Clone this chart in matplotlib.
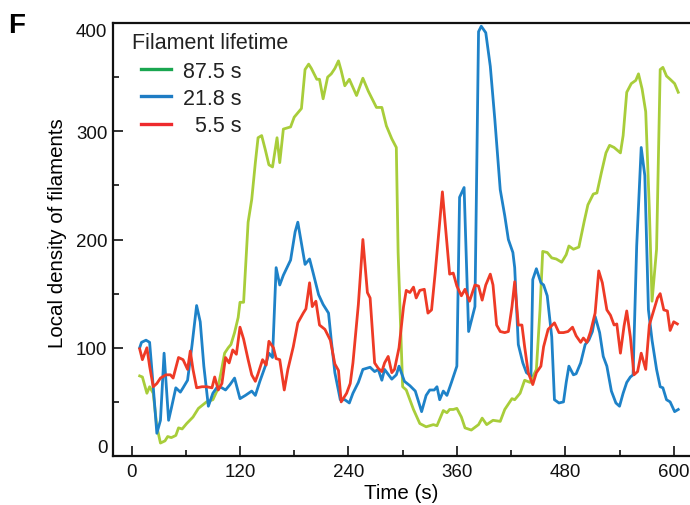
import matplotlib
matplotlib.use('Agg')
from matplotlib import pyplot as plt
from matplotlib.lines import Line2D

plt.rcParams['font.family'] = ['Liberation Sans', 'DejaVu Sans']

# 87.5 s lifetime (green)
t_long = [9, 12, 17, 20, 24, 28, 32, 37, 40, 44, 49, 52, 56, 61, 68, 74, 83, 90, 95, 99,
          103, 107, 110, 114, 118, 120, 124, 129, 133, 137, 140, 144, 148, 152, 156, 161, 164,
          168, 172, 176, 180, 183, 188, 192, 196, 199, 205, 208, 212, 217, 221, 225, 229, 232,
          236, 241, 249, 256, 262, 271, 277, 282, 288, 293, 295, 300, 304, 312, 319, 326, 334,
          338, 345, 349, 352, 356, 360, 365, 369, 376, 384, 388, 393, 400, 408, 413, 421, 424,
          430, 435, 441, 448, 452, 455, 460, 465, 470, 476, 481, 484, 489, 495, 501, 505, 511,
          515, 520, 525, 529, 534, 541, 544, 548, 553, 558, 561, 565, 569, 573, 576, 581, 585,
          588, 592, 596, 601, 605]
d_long = [74, 73, 58, 64, 58, 27, 12, 14, 18, 17, 19, 26, 25, 30, 36, 44, 50, 52, 61, 77,
          95, 100, 103, 114, 128, 142, 142, 216, 237, 271, 294, 296, 283, 269, 267, 294, 271,
          302, 303, 304, 313, 316, 321, 357, 362, 358, 348, 348, 330, 350, 353, 358, 365, 356,
          342, 348, 333, 349, 337, 322, 322, 305, 293, 285, 188, 64, 61, 43, 30, 27, 29,
          28, 42, 40, 43, 43, 44, 36, 26, 24, 29, 35, 29, 33, 32, 43, 53, 52,
          58, 70, 68, 80, 135, 189, 188, 183, 182, 179, 186, 194, 191, 193, 217, 232, 242,
          243, 262, 280, 287, 285, 280, 296, 336, 344, 347, 353, 339, 318, 228, 143, 191, 357,
          359, 351, 348, 344, 336]

# 21.8 s lifetime (blue)
t_mid = [9, 11, 16, 20, 24, 28, 32, 36, 41, 44, 49, 54, 57, 62, 67, 72, 76, 80, 85, 90,
         95, 100, 104, 109, 114, 120, 126, 133, 137, 142, 148, 152, 156, 160, 164, 168, 176,
         181, 184, 192, 197, 201, 207, 212, 218, 221, 225, 231, 236, 241, 245, 251, 256, 264,
         269, 273, 277, 280, 288, 293, 296, 302, 308, 314, 321, 326, 330, 335, 338, 341, 345,
         349, 354, 360, 363, 368, 373, 380, 384, 387, 392, 397, 402, 408, 413, 417, 422, 424,
         428, 433, 437, 442, 444, 448, 453, 456, 460, 465, 468, 473, 478, 481, 484, 489, 492,
         497, 502, 506, 510, 513, 518, 522, 526, 531, 536, 540, 544, 548, 552, 555, 559, 564,
         568, 572, 576, 581, 585, 588, 592, 596, 601, 605]
d_mid = [100, 105, 107, 105, 64, 21, 33, 95, 33, 44, 63, 59, 63, 70, 103, 139, 124, 83, 46, 58,
         64, 63, 61, 66, 72, 53, 56, 60, 56, 69, 83, 95, 91, 174, 158, 167, 181,
         207, 216, 177, 182, 169, 149, 140, 132, 107, 77, 52, 52, 49, 58, 68, 80, 82,
         78, 80, 70, 80, 71, 75, 83, 69, 65, 60, 41, 56, 61, 61, 64, 52, 60,
         56, 68, 83, 239, 248, 115, 138, 392, 397, 391, 360, 311, 246, 222, 200, 188, 174,
         103, 86, 77, 74, 163, 173, 160, 158, 148, 110, 52, 49, 50, 68, 83, 75, 76,
         86, 103, 107, 115, 129, 114, 92, 83, 60, 49, 46, 58, 68, 73, 75, 194, 285,
         259, 135, 107, 80, 64, 63, 52, 50, 41, 43]

# 5.5 s lifetime (red)
t_short = [9, 12, 17, 20, 24, 28, 32, 38, 43, 46, 52, 57, 62, 65, 68, 72, 78, 83, 89, 92,
           96, 100, 104, 108, 112, 116, 120, 124, 129, 133, 137, 140, 145, 149, 152, 157, 160,
           164, 169, 173, 179, 184, 190, 193, 197, 200, 204, 208, 214, 220, 225, 229, 232, 238,
           242, 245, 251, 256, 261, 264, 269, 273, 277, 280, 284, 288, 291, 296, 301, 304, 308,
           312, 315, 319, 324, 328, 332, 336, 339, 344, 348, 352, 356, 360, 365, 369, 374, 380,
           384, 388, 392, 397, 400, 404, 408, 413, 417, 421, 424, 428, 432, 435, 439, 444, 448,
           453, 456, 461, 468, 473, 478, 483, 488, 492, 497, 500, 504, 508, 513, 517, 521, 526,
           530, 534, 537, 541, 545, 548, 552, 556, 560, 564, 569, 573, 577, 582, 585, 589, 593,
           596, 600, 604]
d_short = [99, 89, 100, 83, 64, 67, 72, 75, 75, 72, 91, 89, 80, 97, 80, 63, 64, 64, 63, 73,
           61, 67, 91, 86, 98, 94, 119, 108, 89, 75, 69, 76, 89, 84, 106, 100, 90,
           89, 61, 80, 101, 123, 132, 136, 160, 138, 143, 121, 117, 107, 85, 79, 50, 58,
           67, 86, 140, 200, 151, 146, 86, 81, 78, 86, 92, 77, 80, 100, 138, 153, 151,
           156, 146, 153, 154, 132, 135, 169, 197, 244, 206, 168, 169, 157, 148, 154, 143, 158,
           157, 144, 158, 168, 158, 121, 115, 114, 115, 138, 161, 121, 121, 101, 77, 66, 77,
           83, 101, 117, 123, 114, 114, 115, 119, 111, 105, 109, 105, 115, 132, 171, 160, 135,
           130, 121, 122, 95, 120, 134, 110, 75, 78, 95, 80, 121, 132, 146, 150, 135, 134,
           116, 124, 122]

legend_title = 'Filament lifetime'
legend_labels = ['87.5 s', '21.8 s', '  5.5 s']
line_colors = ['#a8cd3a', '#1e82c8', '#ee3a26']
legend_colors = ['#1aa650', '#1e7cc4', '#ee2a2e']

fig = plt.figure(figsize=(6.9, 5.06), dpi=100)
ax = fig.add_axes([0.1638, 0.0968, 0.8362, 0.8558])

ax.plot(t_long, d_long, color=line_colors[0], lw=2.0)
ax.plot(t_mid, d_mid, color=line_colors[1], lw=2.0)
ax.plot(t_short, d_short, color=line_colors[2], lw=2.0)

ax.set_xlim(-20.5, 618)
ax.set_ylim(0, 400)
ax.set_xticks([0, 120, 240, 360, 480, 600])
ax.set_xticks([60, 180, 300, 420, 540], minor=True)
ax.set_yticks([0, 100, 200, 300, 400])
ax.set_yticks([50, 150, 250, 350], minor=True)
ax.tick_params(which='both', direction='in', width=1.2, labelsize=13.5, colors='#111111')
ax.tick_params(which='major', length=7.5)
ax.tick_params(which='minor', length=4.5)
ax.tick_params(axis='y', pad=4)
ax.tick_params(axis='x', pad=5)
for sp in ['left', 'bottom', 'top']:
    ax.spines[sp].set_linewidth(1.6)
    ax.spines[sp].set_color('#111111')
ax.spines['right'].set_visible(False)

ylabs = ax.get_yticklabels()
ylabs[-1].set_va('top')
ylabs[0].set_va('bottom')

ax.set_xlabel('Time (s)', fontsize=14.8, labelpad=2)
ax.set_ylabel('Local density of filaments', fontsize=14.8)
ax.yaxis.set_label_coords(-0.08, 0.517)

# legend: title as plain text, entries indented under it
ax.text(0.033, 0.956, legend_title, transform=ax.transAxes, fontsize=15.5,
        va='center', ha='left', color='#222222')
handles = [Line2D([], [], color=c, lw=2.4) for c in legend_colors]
leg = ax.legend(handles, legend_labels, loc='upper left',
                bbox_to_anchor=(0.0485, 0.913), frameon=False, fontsize=15.5,
                handlelength=1.4, handletextpad=0.56, labelspacing=0.29,
                borderaxespad=0, borderpad=0)
for t in leg.get_texts():
    t.set_color('#222222')

fig.text(0.012, 0.948, 'F', fontsize=20, fontweight='bold', va='center', ha='left')

fig.savefig('out.png', dpi=100)
